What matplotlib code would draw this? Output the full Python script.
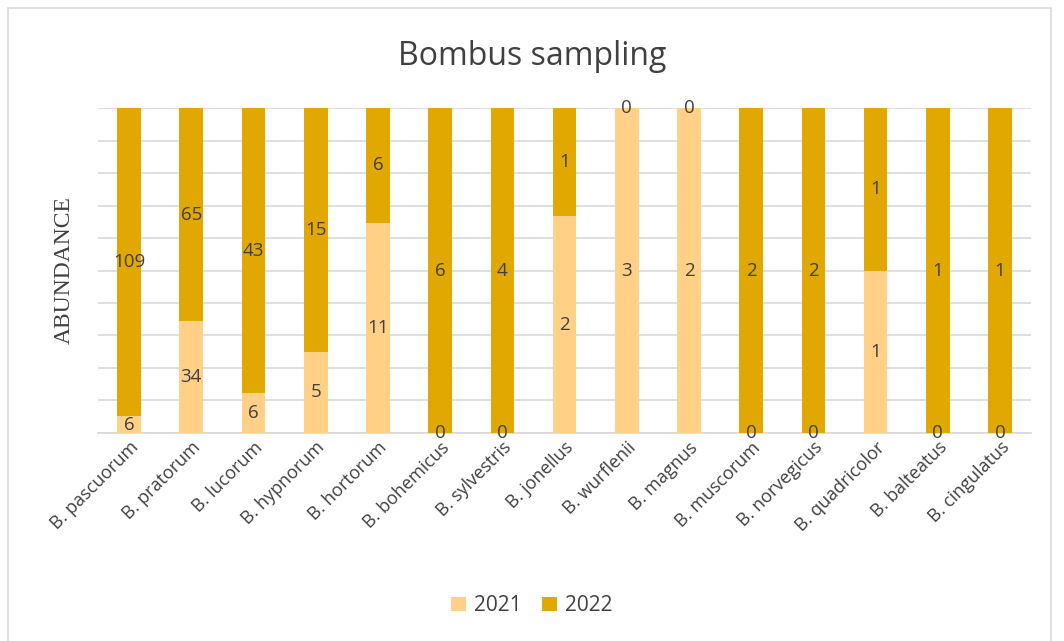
import matplotlib.pyplot as plt
from matplotlib.patches import Rectangle
import numpy as np

species = ["B. pascuorum", "B. pratorum", "B. lucorum", "B. hypnorum", "B. hortorum",
           "B. bohemicus", "B. sylvestris", "B. jonellus", "B. wurflenii", "B. magnus",
           "B. muscorum", "B. norvegicus", "B. quadricolor", "B. balteatus", "B. cingulatus"]
y2021 = [6, 34, 6, 5, 11, 0, 0, 2, 3, 2, 0, 0, 1, 0, 0]
y2022 = [109, 65, 43, 15, 6, 6, 4, 1, 0, 0, 2, 2, 1, 1, 1]

c2021 = '#FFD085'
c2022 = '#E0A800'
txt = '#404040'
grid = '#D9D9D9'

plt.rcParams['font.family'] = ['Open Sans', 'DejaVu Sans']

def main():
    a = np.array(y2021, dtype=float)
    b = np.array(y2022, dtype=float)
    tot = a + b
    pa = a / tot * 100
    pb = b / tot * 100
    x = np.arange(len(species))

    fig = plt.figure(figsize=(10.64, 6.41), dpi=100)
    fig.patches.append(Rectangle((8/1064, -0.1), 1043/1064, 1.1 - 8/641,
                                 transform=fig.transFigure, fill=False,
                                 edgecolor=grid, linewidth=1.2))
    ax = fig.add_axes([0.0921, 0.3245, 0.877, 0.507])

    bars1 = ax.bar(x, pa, width=0.38, color=c2021, label='2021', zorder=3)
    bars2 = ax.bar(x, pb, width=0.38, bottom=pa, color=c2022, label='2022', zorder=3)
    ax.bar_label(bars1, labels=[str(v) for v in y2021], label_type='center',
                 fontsize=13.5, color=txt)
    ax.bar_label(bars2, labels=[str(v) for v in y2022], label_type='center',
                 fontsize=13.5, color=txt)

    ax.set_xlim(-0.5, len(species) - 0.5)
    ax.set_ylim(0, 100)
    ax.set_yticks(np.arange(0, 101, 10))
    ax.yaxis.grid(True, color=grid, linewidth=1.2, zorder=0)
    ax.tick_params(axis='y', left=False, labelleft=False)
    ax.tick_params(axis='x', length=0, pad=4)
    ax.set_xticks(x)
    ax.set_xticklabels(species, rotation=45, ha='right', rotation_mode='anchor',
                       fontsize=13, color=txt)
    for s in ['top', 'right', 'left']:
        ax.spines[s].set_visible(False)
    ax.spines['bottom'].set_color(grid)
    ax.spines['bottom'].set_linewidth(1.2)

    ax.set_ylabel('ABUNDANCE', family='Liberation Serif', fontsize=17, color=txt, labelpad=17)
    fig.text(0.5, 0.912, 'Bombus sampling', ha='center', va='center', fontsize=23, color=txt)
    fig.legend(loc='center', bbox_to_anchor=(0.5, 0.055), ncol=2, frameon=False,
               fontsize=15, labelcolor=txt, handlelength=0.7, handleheight=0.7,
               columnspacing=1.0, handletextpad=0.4)

    fig.savefig('out.png', dpi=100)

if __name__ == "__main__":
    main()
